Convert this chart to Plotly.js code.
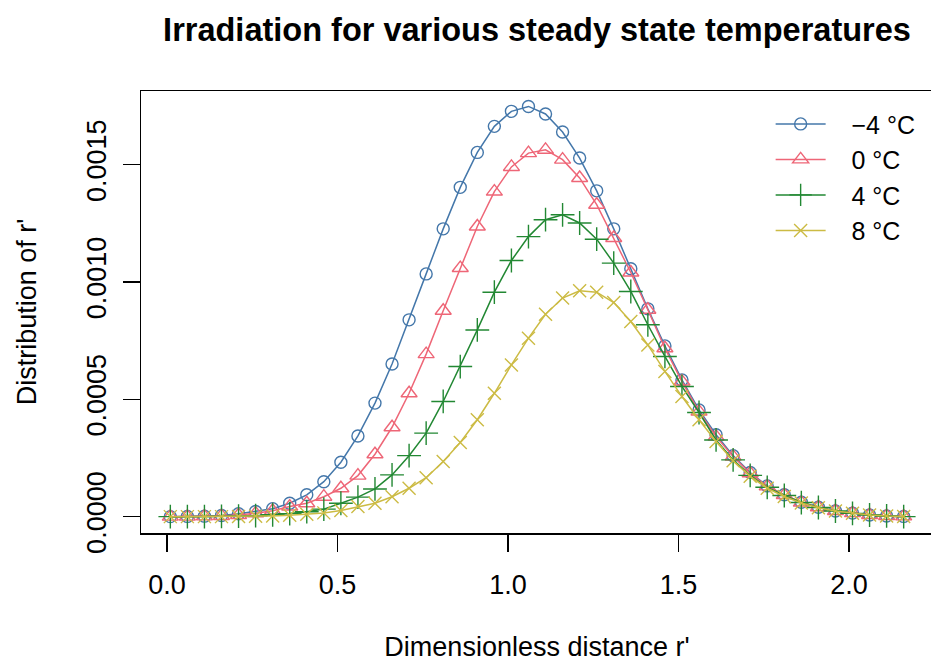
<!DOCTYPE html>
<html>
<head>
<meta charset="utf-8">
<script src="https://cdn.plot.ly/plotly-3.0.1.min.js"></script>
<style>
html,body{margin:0;padding:0;overflow:hidden;background:#fff;}
#chart{width:940px;height:662px;}
</style>
</head>
<body>
<div id="chart"></div>
<script>
// Dimensionless distance r' (44 points, step 0.05)
const rPrime = [0.01,0.06,0.11,0.16,0.21,0.26,0.31,0.36,0.41,0.46,0.51,0.56,0.61,0.66,0.71,0.76,0.81,0.86,0.91,0.96,1.01,1.06,1.11,1.16,1.21,1.26,1.31,1.36,1.41,1.46,1.51,1.56,1.61,1.66,1.71,1.76,1.81,1.86,1.91,1.96,2.01,2.06,2.11,2.16];

const seriesNames = ["\u22124 \u00b0C", "0 \u00b0C", "4 \u00b0C", "8 \u00b0C"];

const tempM4 = [0,0.000001,0.000002,0.000005,0.000012,0.000022,0.000034,0.000057,0.000093,0.000149,0.000232,0.000344,0.000484,0.000651,0.000839,0.001035,0.001227,0.001404,0.001553,0.001664,0.001728,0.001749,0.001717,0.001640,0.001529,0.001389,0.001227,0.001057,0.000886,0.000728,0.000583,0.000455,0.000349,0.000260,0.000188,0.000131,0.000093,0.000061,0.000040,0.000024,0.000015,0.000007,0.000003,0.000001];

const temp0 = [0,0,0.000001,0.000003,0.000007,0.000014,0.000025,0.000043,0.000057,0.000085,0.000121,0.000175,0.000266,0.000381,0.000526,0.000693,0.000878,0.001060,0.001237,0.001386,0.001491,0.001550,0.001564,0.001522,0.001444,0.001330,0.001188,0.001041,0.000882,0.000718,0.000576,0.000448,0.000341,0.000256,0.000185,0.000129,0.000092,0.000060,0.000040,0.000024,0.000015,0.000007,0.000003,0.000001];

const temp4 = [0,0,0,0.000001,0.000002,0.000004,0.000008,0.000013,0.000021,0.000032,0.000057,0.000083,0.000118,0.000178,0.000260,0.000356,0.000491,0.000640,0.000796,0.000957,0.001092,0.001194,0.001266,0.001287,0.001252,0.001183,0.001081,0.000960,0.000818,0.000683,0.000555,0.000444,0.000327,0.000242,0.000176,0.000125,0.000090,0.000060,0.000039,0.000024,0.000014,0.000007,0.000003,0];

const temp8 = [0,0,0,0,0.000001,0.000002,0.000003,0.000006,0.000010,0.000016,0.000026,0.000043,0.000057,0.000085,0.000121,0.000166,0.000235,0.000316,0.000413,0.000526,0.000647,0.000761,0.000863,0.000932,0.000963,0.000957,0.000913,0.000832,0.000732,0.000619,0.000512,0.000413,0.000320,0.000238,0.000172,0.000121,0.000086,0.000058,0.000038,0.000024,0.000014,0.000007,0.000003,0.000001];

const xTicks = [0, 0.5, 1.0, 1.5, 2.0];
const yTicks = [0, 0.0005, 0.0010, 0.0015];

const colors = ["#4477AA", "#EE6677", "#228833", "#CCBB44"];
const symbols = ["circle-open", "triangle-up-open", "cross-thin-open", "x-thin-open"];
const sizes = [12, 14, 17, 13];
const allY = [tempM4, temp0, temp4, temp8];
const pad = "\u00a0\u00a0\u00a0";

const traces = allY.map((ys, k) => ({
  x: rPrime, y: ys, name: pad + seriesNames[k],
  type: "scatter", mode: "lines+markers",
  line: {color: colors[k], width: 1.5},
  marker: {symbol: symbols[k], size: sizes[k], color: colors[k], line: {color: colors[k], width: 1.4}}
}));

const font = "Liberation Sans, Arial, sans-serif";

const layout = {
  width: 940, height: 662,
  margin: {l: 141, r: 7, t: 91, b: 129},
  paper_bgcolor: "#fff", plot_bgcolor: "#fff",
  font: {family: font, color: "#000", size: 27},
  showlegend: true,
  title: {text: "<b>Irradiation for various steady state temperatures</b>", font: {family: font, size: 32.5, color: "#000"},
          x: 0.5, xref: "paper", y: 1 - 30/662, yref: "container", yanchor: "middle"},
  xaxis: {
    range: [-0.076, 2.246], tickvals: xTicks, tickformat: ".1f",
    ticks: "outside", ticklen: 17, tickwidth: 1.3, tickcolor: "#000",
    showline: true, linecolor: "#000", linewidth: 1.5, mirror: true,
    showgrid: false, zeroline: false, ticklabelstandoff: 10,
    tickfont: {family: font, size: 27},
    title: {text: "Dimensionless distance r'", font: {family: font, size: 27}, standoff: 46}
  },
  yaxis: {
    range: [-0.0000698, 0.0018148], tickvals: yTicks, tickformat: ".4f",
    ticks: "outside", ticklen: 17, tickwidth: 1.3, tickcolor: "#000", tickangle: -90,
    showline: true, linecolor: "#000", linewidth: 1.5, mirror: true,
    showgrid: false, zeroline: false, ticklabelstandoff: 6,
    tickfont: {family: font, size: 27},
    title: {text: "Distribution of r'", font: {family: font, size: 27}, standoff: 37}
  },
  legend: {
    x: 0.795, xanchor: "left", y: 0.977, yanchor: "top",
    bgcolor: "rgba(0,0,0,0)", borderwidth: 0,
    font: {family: font, size: 25, color: "#000"},
    tracegroupgap: 0, itemwidth: 50
  }
};

Plotly.newPlot("chart", traces, layout, {staticPlot: true, displayModeBar: false});
</script>
</body>
</html>
